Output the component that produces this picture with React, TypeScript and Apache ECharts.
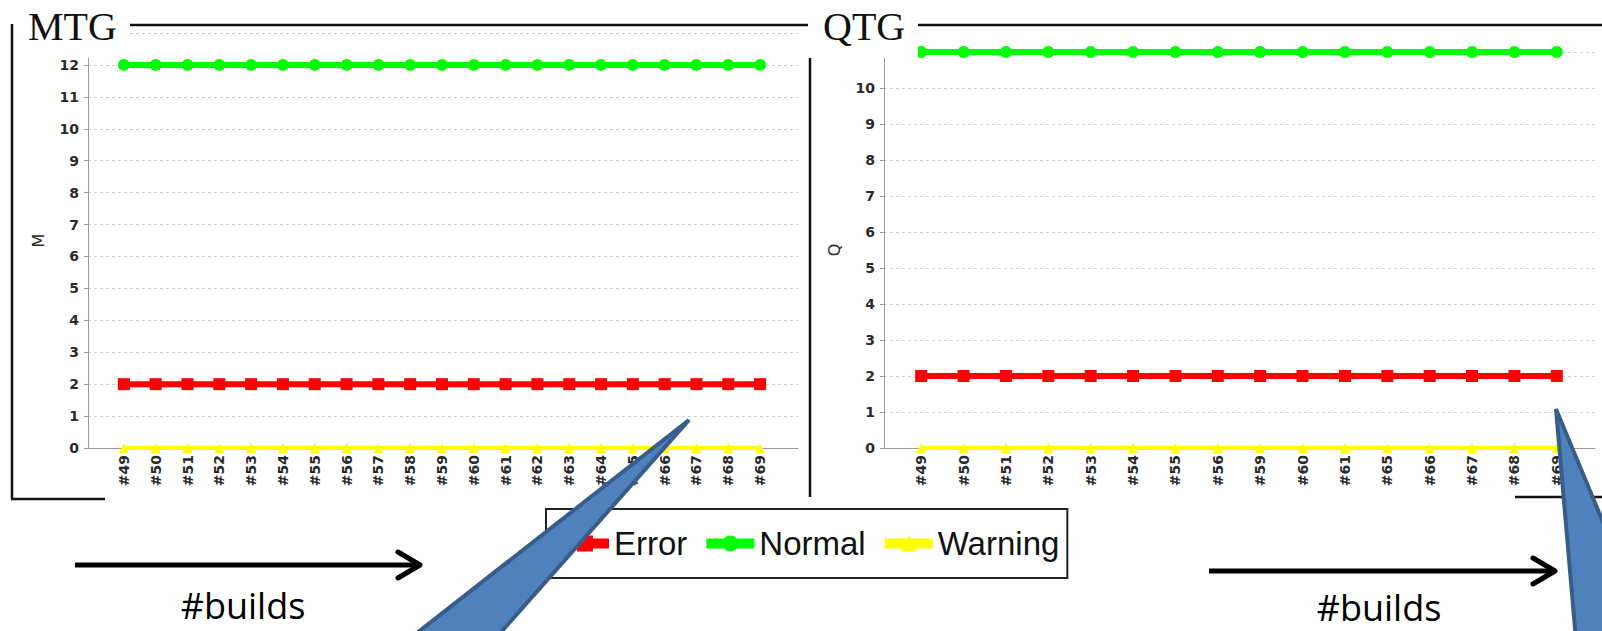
import React, { useEffect, useRef } from "react";
import * as echarts from "echarts";

const MTG_BUILDS = ["#49", "#50", "#51", "#52", "#53", "#54", "#55", "#56", "#57", "#58", "#59", "#60", "#61", "#62", "#63", "#64", "#65", "#66", "#67", "#68", "#69"];
const MTG_ERROR = [2, 2, 2, 2, 2, 2, 2, 2, 2, 2, 2, 2, 2, 2, 2, 2, 2, 2, 2, 2, 2];
const MTG_NORMAL = [12, 12, 12, 12, 12, 12, 12, 12, 12, 12, 12, 12, 12, 12, 12, 12, 12, 12, 12, 12, 12];
const MTG_WARNING = [0, 0, 0, 0, 0, 0, 0, 0, 0, 0, 0, 0, 0, 0, 0, 0, 0, 0, 0, 0, 0];

const QTG_BUILDS = ["#49", "#50", "#51", "#52", "#53", "#54", "#55", "#56", "#59", "#60", "#61", "#65", "#66", "#67", "#68", "#69"];
const QTG_ERROR = [2, 2, 2, 2, 2, 2, 2, 2, 2, 2, 2, 2, 2, 2, 2, 2];
const QTG_NORMAL = [11, 11, 11, 11, 11, 11, 11, 11, 11, 11, 11, 11, 11, 11, 11, 11];
const QTG_WARNING = [0, 0, 0, 0, 0, 0, 0, 0, 0, 0, 0, 0, 0, 0, 0, 0];

const SERIES_NAMES = ["Error", "Normal", "Warning"];
const SERIES_COLORS = ["#ff0000", "#00ff00", "#ffff00"];
const PANEL_TITLES = ["MTG", "QTG"];
const AXIS_NAMES = ["M", "Q"];
const Y_MAX = [13, 11];
const X_CAPTION = "#builds";

const tickFont = { fontFamily: "DejaVu Sans", fontSize: 14, fontWeight: "bold", color: "#2a2a2a" };
const axisGray = "#9a9a9a";
const frame = "#111";

function frameAxes(gridIdx: number, cats: string[], yMax: number, name: string) {
  const x = {
    gridIndex: gridIdx,
    type: "category",
    data: cats,
    axisLine: { show: true, lineStyle: { color: axisGray, width: 1 } },
    axisTick: { show: false },
    axisLabel: { show: false },
    splitLine: { show: false },
  };
  const y = {
    gridIndex: gridIdx,
    type: "value",
    min: 0,
    max: yMax,
    interval: 1,
    name,
    nameLocation: "middle",
    nameRotate: 90,
    nameGap: 42,
    nameTextStyle: { fontFamily: "DejaVu Sans", fontSize: 16, color: "#2a2a2a" },
    axisLine: { show: true, lineStyle: { color: axisGray, width: 1 } },
    axisTick: { show: true, length: 4, lineStyle: { color: axisGray } },
    axisLabel: { ...tickFont, margin: 9, showMaxLabel: false },
    splitLine: { show: true, lineStyle: { color: "#cfcfcf", type: [3, 3], width: 1 } },
  };
  return { x, y };
}

function dataAxes(gridIdx: number, cats: string[], yMax: number) {
  const x = {
    gridIndex: gridIdx,
    type: "category",
    data: cats,
    boundaryGap: true,
    axisLine: { show: false },
    axisTick: { show: false },
    axisLabel: { ...tickFont, rotate: 90, margin: 7, interval: 0 },
    splitLine: { show: false },
  };
  const y = { gridIndex: gridIdx, type: "value", min: 0, max: yMax, interval: 1, show: false };
  return { x, y };
}

function seriesFor(axisIdx: number, values: number[][]) {
  const symbols = ["rect", "circle", "triangle"];
  const sizes: any[] = [12, 12, [10, 10]];
  const widths = [6, 6, 4];
  return SERIES_NAMES.map((n, i) => ({
    name: n,
    type: "line",
    xAxisIndex: axisIdx,
    yAxisIndex: axisIdx,
    data: values[i],
    symbol: symbols[i],
    symbolSize: sizes[i],
    showSymbol: true,
    lineStyle: { color: SERIES_COLORS[i], width: widths[i] },
    itemStyle: { color: SERIES_COLORS[i] },
    z: 3 + i,
  }));
}

export default function App() {
  const ref = useRef<HTMLDivElement>(null);
  useEffect(() => {
    if (!ref.current) return;
    const chart = echarts.init(ref.current, null, { renderer: "svg" });
    const mf = frameAxes(0, MTG_BUILDS, Y_MAX[0], AXIS_NAMES[0]);
    const md = dataAxes(1, MTG_BUILDS, Y_MAX[0]);
    const qf = frameAxes(2, QTG_BUILDS, Y_MAX[1], AXIS_NAMES[1]);
    const qd = dataAxes(3, QTG_BUILDS, Y_MAX[1]);

    const line = (x1: number, y1: number, x2: number, y2: number, w = 2.5) => ({
      type: "line",
      z: 60,
      shape: { x1, y1, x2, y2 },
      style: { stroke: frame, lineWidth: w },
    });
    const arrowHead = (tx: number, ty: number) => ({
      type: "polyline",
      z: 60,
      shape: { points: [[tx - 22, ty - 13], [tx, ty], [tx - 22, ty + 13]] },
      style: { stroke: "#000", lineWidth: 5, fill: null, lineCap: "round", lineJoin: "round" },
    });
    const title = (t: string, x: number) => ({
      type: "text",
      z: 60,
      x,
      y: 26,
      style: { text: t, fontFamily: "Liberation Serif", fontSize: 40, fill: "#111", textAlign: "left", textVerticalAlign: "middle" },
    });
    const caption = (x: number, y: number) => ({
      type: "text",
      z: 60,
      x,
      y,
      style: {
        text: X_CAPTION,
        fontFamily: "Open Sans",
        fontSize: 36,
        fill: "#000",
        textAlign: "center",
        textVerticalAlign: "middle",
      },
    });
    const callout = (pts: number[][]) => ({
      type: "polygon",
      z: 100,
      shape: { points: pts },
      style: { fill: "#4f81bd", stroke: "#385d8a", lineWidth: 4, lineJoin: "miter" },
    });

    chart.setOption({
      animation: false,
      backgroundColor: "#ffffff",
      grid: [
        { left: 88, top: 33, width: 710, height: 415 },
        { left: 108, top: 33, width: 668, height: 415 },
        { left: 884, top: 52, width: 711, height: 396 },
        { left: 900, top: 52, width: 678, height: 396 },
      ],
      xAxis: [mf.x, md.x, qf.x, qd.x],
      yAxis: [mf.y, md.y, qf.y, qd.y],
      legend: {
        data: SERIES_NAMES,
        left: 546,
        top: 509,
        orient: "horizontal",
        padding: [18, 8, 18, 10],
        borderColor: "#222",
        borderWidth: 2,
        itemWidth: 48,
        itemHeight: 20,
        itemGap: 14,
        lineStyle: { width: 10 },
        textStyle: { fontFamily: "Liberation Sans", fontSize: 33, color: "#111" },
      },
      series: [
        ...seriesFor(1, [MTG_ERROR, MTG_NORMAL, MTG_WARNING]),
        ...seriesFor(3, [QTG_ERROR, QTG_NORMAL, QTG_WARNING]),
      ],
      graphic: [
        { type: "rect", z: 50, shape: { x: 14, y: 0, width: 116, height: 58 }, style: { fill: "#ffffff" } },
        { type: "rect", z: 50, shape: { x: 806, y: 0, width: 112, height: 58 }, style: { fill: "#ffffff" } },
        title(PANEL_TITLES[0], 28),
        title(PANEL_TITLES[1], 823),
        line(130, 25, 808, 25),
        line(918, 25, 1602, 25),
        line(12, 24, 12, 499),
        line(11, 499, 105, 499),
        line(810, 58, 810, 497),
        line(1515, 497, 1602, 497),
        { type: "line", z: 60, shape: { x1: 75, y1: 565, x2: 418, y2: 565 }, style: { stroke: "#000", lineWidth: 5 } },
        arrowHead(420, 565),
        { type: "line", z: 60, shape: { x1: 1209, y1: 571, x2: 1553, y2: 571 }, style: { stroke: "#000", lineWidth: 5 } },
        arrowHead(1555, 571),
        caption(243, 605),
        caption(1379, 607),
        callout([[689, 420], [408, 640], [494, 640]]),
        callout([[1556, 409], [1576, 640], [1652, 640]]),
      ],
    });
    return () => chart.dispose();
  }, []);
  return (
    <div
      ref={ref}
      style={{ position: "fixed", left: 0, top: 0, width: 1602, height: 631, background: "#fff" }}
    />
  );
}
